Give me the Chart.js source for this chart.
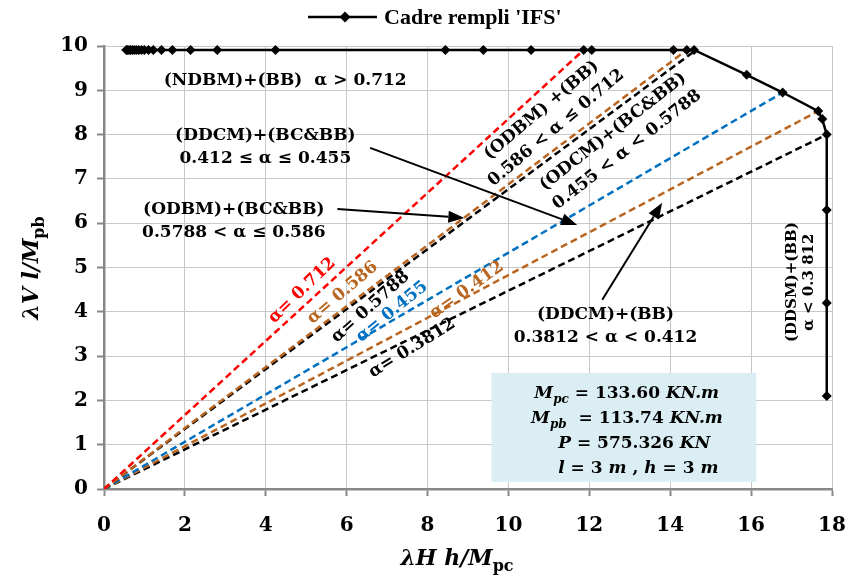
<!DOCTYPE html>
<html>
<head>
<meta charset="utf-8">
<script src="https://cdn.jsdelivr.net/npm/chart.js@4.4.1/dist/chart.umd.min.js"></script>
<style>
  html, body { margin: 0; padding: 0; background: #ffffff; }
  #wrap { width: 848px; height: 581px; }
</style>
</head>
<body>
<div id="wrap"><canvas id="c" width="848" height="581"></canvas></div>
<script>
// Interaction curve of the infilled frame (lambda H h / Mpc , lambda V l / Mpb)
const curveX = [0.55, 0.58, 0.62, 0.66, 0.70, 0.75, 0.80, 0.86, 0.93, 1.00,
                1.10, 1.22, 1.42, 1.69, 2.14, 2.80, 4.24, 8.44, 9.38, 10.56,
                11.86, 12.06, 14.08, 14.41, 14.59, 15.89, 16.78, 17.66, 17.76, 17.87,
                17.87, 17.87, 17.87];
const curveY = [9.91, 9.91, 9.91, 9.91, 9.91, 9.91, 9.91, 9.91, 9.91, 9.91,
                9.91, 9.91, 9.91, 9.91, 9.91, 9.91, 9.91, 9.91, 9.91, 9.91,
                9.91, 9.91, 9.91, 9.91, 9.91, 9.35, 8.95, 8.53, 8.35, 8.00,
                6.30, 4.20, 2.10];

// Constant-alpha rays from the origin to the curve
const alphaValues = ['0.712', '0.586', '0.5788', '0.455', '0.412', '0.3812'];
const alphaEndX   = [11.86, 14.41, 14.55, 16.78, 17.66, 17.87];
const alphaEndY   = [9.91, 9.91, 9.85, 8.95, 8.53, 8.00];

const xTicks = [0, 2, 4, 6, 8, 10, 12, 14, 16, 18];
const yTicks = [0, 1, 2, 3, 4, 5, 6, 7, 8, 9, 10];

const seriesName = "Cadre rempli 'IFS'";

// styling
const RED = '#ff0000', BROWN = '#b9651f', BLUE = '#0070c0', BLACK = '#000000';
const rayColors = [RED, BROWN, BLACK, BLUE, BROWN, BLACK];
const SERIF = '"DejaVu Serif", "Liberation Serif", serif';

const datasets = [{
  label: seriesName,
  data: curveX.map((x, i) => ({ x: x, y: curveY[i] })),
  showLine: true,
  borderColor: BLACK,
  backgroundColor: BLACK,
  borderWidth: 2.5,
  pointStyle: 'rectRot',
  pointRadius: 5,
  pointBorderWidth: 0,
  order: 0,
  clip: 12
}];
alphaValues.forEach((a, i) => {
  datasets.push({
    label: 'alpha = ' + a,
    data: [{ x: 0, y: 0 }, { x: alphaEndX[i], y: alphaEndY[i] }],
    showLine: true,
    borderColor: rayColors[i],
    borderWidth: 2.5,
    borderDash: [7, 4],
    pointRadius: 0,
    order: 1 + i
  });
});

function font(size, italic) {
  return (italic ? 'italic ' : '') + 'bold ' + size + 'px ' + SERIF;
}

// text made of runs: {t, it (italic), sub (subscript)}
function richWidth(ctx, runs, size) {
  let w = 0;
  runs.forEach(r => {
    ctx.font = font(r.sub ? Math.round(size * 0.72) : size, r.it);
    w += ctx.measureText(r.t).width;
  });
  return w;
}
function drawRich(ctx, runs, x, y, size, align) {
  const w = richWidth(ctx, runs, size);
  let cx = align === 'center' ? x - w / 2 : x;
  ctx.textAlign = 'left';
  ctx.textBaseline = 'alphabetic';
  runs.forEach(r => {
    const s = r.sub ? Math.round(size * 0.72) : size;
    ctx.font = font(s, r.it);
    ctx.fillText(r.t, cx, y + (r.sub ? size * 0.28 : 0));
    cx += ctx.measureText(r.t).width;
  });
}

// annotation content
const blockLabels = [
  { lines: ['(NDBM)+(BB)  \u03b1 > 0.712'], x: 4.48, y: 9.23 },
  { lines: ['(DDCM)+(BC&BB)', '0.412 \u2264 \u03b1 \u2264 0.455'], x: 3.99, y: 7.71 },
  { lines: ['(ODBM)+(BC&BB)', '0.5788 < \u03b1 \u2264 0.586'], x: 3.21, y: 6.04 },
  { lines: ['(DDCM)+(BB)', '0.3812 < \u03b1 < 0.412'], x: 12.40, y: 3.67 }
];
const rotatedBlocks = [
  { lines: ['(ODBM) +(BB)', '0.586 < \u03b1 \u2264 0.712'], x: 11.00, y: 8.35, angle: -40, size: 17, gap: 23 },
  { lines: ['(ODCM)+(BC&BB)', '0.455 < \u03b1 < 0.5788'], x: 12.76, y: 7.86, angle: -38, size: 17, gap: 23 },
  { lines: ['(DDSM)+(BB)', '\u03b1 < 0.3 812'], x: 17.22, y: 4.67, angle: -90, size: 15, gap: 17 }
];
const rayLabels = [
  { x: 4.90, y: 4.48, angle: -44 },
  { x: 5.90, y: 4.43, angle: -40.5 },
  { x: 6.59, y: 4.11, angle: -41.7 },
  { x: 7.12, y: 4.00, angle: -39 },
  { x: 8.97, y: 4.49, angle: -35.5 },
  { x: 7.62, y: 3.18, angle: -31.6 }
];
const arrows = [
  { from: [6.58, 7.70], to: [11.70, 5.96] },
  { from: [5.77, 6.32], to: [8.91, 6.12] },
  { from: [12.32, 4.27], to: [13.80, 6.46] }
];
const infoBox = { x0: 9.58, x1: 16.13, y0: 2.62, y1: 0.16 };
const infoLines = [
  { x: 10.64, y: 2.05, runs: [{ t: 'M', it: true }, { t: 'pc', it: true, sub: true }, { t: ' = 133.60 ' }, { t: 'KN.m', it: true }] },
  { x: 10.56, y: 1.49, runs: [{ t: 'M', it: true }, { t: 'pb', it: true, sub: true }, { t: '  = 113.74 ' }, { t: 'KN.m', it: true }] },
  { x: 11.23, y: 0.93, runs: [{ t: 'P', it: true }, { t: ' = 575.326 ' }, { t: 'KN', it: true }] },
  { x: 11.23, y: 0.36, runs: [{ t: 'l', it: true }, { t: ' = 3 ' }, { t: 'm', it: true }, { t: ' , ' }, { t: 'h', it: true }, { t: ' = 3 ' }, { t: 'm', it: true }] }
];

const backPlugin = {
  id: 'infoBoxBack',
  beforeDatasetsDraw(chart) {
    const { ctx, scales: { x, y } } = chart;
    ctx.save();
    ctx.fillStyle = '#daeef3';
    const l = x.getPixelForValue(infoBox.x0), r = x.getPixelForValue(infoBox.x1);
    const t = y.getPixelForValue(infoBox.y0), b = y.getPixelForValue(infoBox.y1);
    ctx.fillRect(l, t, r - l, b - t);
    ctx.restore();
  }
};

const annotPlugin = {
  id: 'annotations',
  afterDatasetsDraw(chart) {
    const { ctx, scales: { x, y } } = chart;
    const px = v => x.getPixelForValue(v), py = v => y.getPixelForValue(v);
    ctx.save();
    ctx.fillStyle = BLACK;

    // info box text
    infoLines.forEach(l => drawRich(ctx, l.runs, px(l.x), py(l.y), 17, 'left'));

    // horizontal labels
    ctx.textAlign = 'center';
    ctx.textBaseline = 'middle';
    ctx.font = font(17, false);
    blockLabels.forEach(b => {
      const n = b.lines.length;
      b.lines.forEach((s, i) => {
        ctx.fillText(s, px(b.x), py(b.y) + (i - (n - 1) / 2) * 23);
      });
    });

    // rotated labels
    rotatedBlocks.forEach(b => {
      ctx.save();
      ctx.translate(px(b.x), py(b.y));
      ctx.rotate(b.angle * Math.PI / 180);
      ctx.textAlign = 'center';
      ctx.textBaseline = 'middle';
      ctx.font = font(b.size, false);
      const n = b.lines.length;
      b.lines.forEach((s, i) => ctx.fillText(s, 0, (i - (n - 1) / 2) * b.gap));
      ctx.restore();
    });

    // ray labels
    rayLabels.forEach((r, i) => {
      ctx.save();
      ctx.translate(px(r.x), py(r.y));
      ctx.rotate(r.angle * Math.PI / 180);
      ctx.textAlign = 'center';
      ctx.textBaseline = 'middle';
      ctx.font = font(17, false);
      ctx.fillStyle = rayColors[i];
      ctx.fillText('\u03b1= ' + alphaValues[i], 0, 0);
      ctx.restore();
    });

    // arrows
    ctx.strokeStyle = BLACK;
    ctx.fillStyle = BLACK;
    ctx.lineWidth = 2;
    arrows.forEach(a => {
      const x0 = px(a.from[0]), y0 = py(a.from[1]);
      const x1 = px(a.to[0]), y1 = py(a.to[1]);
      const ang = Math.atan2(y1 - y0, x1 - x0);
      const L = 16, W = 6;
      const bx = x1 - L * Math.cos(ang), by = y1 - L * Math.sin(ang);
      ctx.beginPath();
      ctx.moveTo(x0, y0);
      ctx.lineTo(bx, by);
      ctx.stroke();
      ctx.beginPath();
      ctx.moveTo(x1, y1);
      ctx.lineTo(bx + W * Math.sin(ang), by - W * Math.cos(ang));
      ctx.lineTo(bx - W * Math.sin(ang), by + W * Math.cos(ang));
      ctx.closePath();
      ctx.fill();
    });
    ctx.restore();
  },
  afterDraw(chart) {
    const { ctx, chartArea } = chart;
    ctx.save();
    ctx.fillStyle = BLACK;
    ctx.strokeStyle = BLACK;

    // legend
    const ly = 17;
    ctx.lineWidth = 2.5;
    ctx.beginPath();
    ctx.moveTo(308, ly);
    ctx.lineTo(377, ly);
    ctx.stroke();
    ctx.beginPath();
    ctx.moveTo(345, ly - 5.5); ctx.lineTo(350.5, ly); ctx.lineTo(345, ly + 5.5); ctx.lineTo(339.5, ly);
    ctx.closePath();
    ctx.fill();
    ctx.font = 'bold 22px "Liberation Serif", serif';
    ctx.textAlign = 'left';
    ctx.textBaseline = 'middle';
    ctx.fillText(seriesName, 384, ly + 1);

    // axis titles
    const cx = (chartArea.left + chartArea.right) / 2 - 11;
    drawRich(ctx, [{ t: '\u03bbH h/M', it: true }, { t: 'pc' , sub: true }], cx, 565, 22, 'center');
    ctx.save();
    ctx.translate(38, 268);
    ctx.rotate(-Math.PI / 2);
    drawRich(ctx, [{ t: '\u03bbV l/M', it: true }, { t: 'pb', sub: true }], 0, 0, 22, 'center');
    ctx.restore();
    ctx.restore();
  }
};

new Chart(document.getElementById('c'), {
  type: 'scatter',
  data: { datasets: datasets },
  options: {
    responsive: false,
    animation: false,
    devicePixelRatio: 1,
    layout: { padding: { top: 46, right: 16, bottom: 0, left: 0 } },
    plugins: { legend: { display: false }, tooltip: { enabled: false } },
    scales: {
      x: {
        type: 'linear',
        min: 0, max: 18,
        afterBuildTicks: s => { s.ticks = xTicks.map(v => ({ value: v })); },
        afterFit: s => { s.height = 92; s.paddingLeft = 0; s.paddingRight = 0; },
        grid: { color: '#c8c8c8', lineWidth: 1, tickLength: 7, tickColor: '#888888', tickWidth: 2 },
        border: { color: '#888888', width: 2.5 },
        ticks: { color: BLACK, padding: 18, font: { family: SERIF, weight: 'bold', size: 20 } }
      },
      y: {
        type: 'linear',
        min: 0, max: 10,
        afterBuildTicks: s => { s.ticks = yTicks.map(v => ({ value: v })); },
        afterFit: s => { s.width = 104; s.paddingTop = 0; s.paddingBottom = 0; },
        grid: { color: '#c8c8c8', lineWidth: 1, tickLength: 7, tickColor: '#888888', tickWidth: 2 },
        border: { color: '#888888', width: 2.5 },
        ticks: { color: BLACK, padding: 9, font: { family: SERIF, weight: 'bold', size: 20 } }
      }
    }
  },
  plugins: [backPlugin, annotPlugin]
});
</script>
</body>
</html>
